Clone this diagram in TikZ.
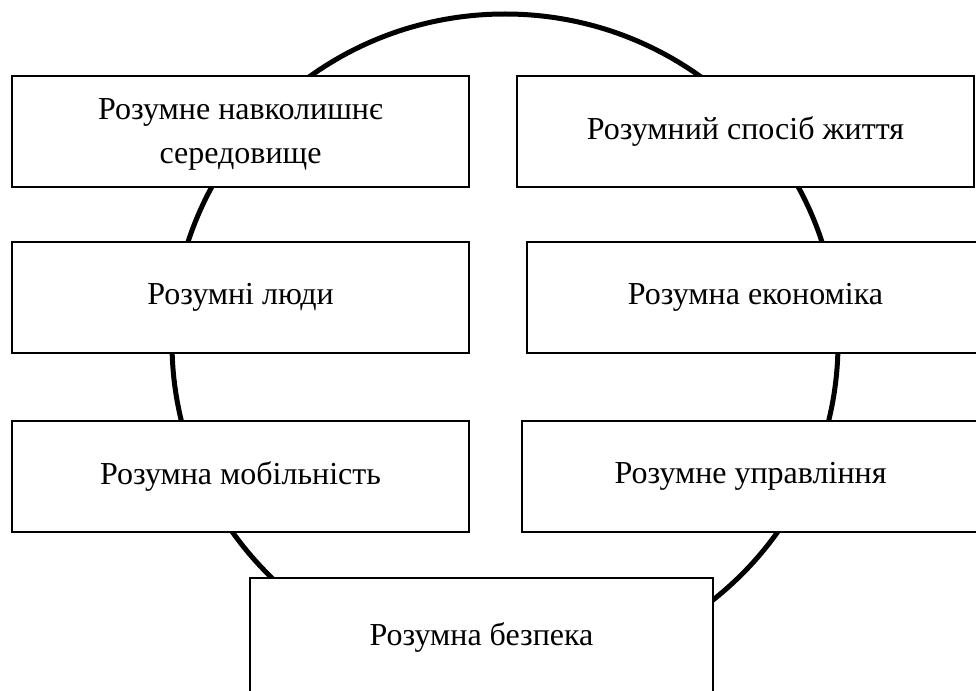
\documentclass[tikz,border=0pt]{standalone}
\usepackage{fontspec}
\setmainfont{Liberation Serif}
\begin{document}
\begin{tikzpicture}[x=1pt,y=-1pt,
  box/.style={draw=black, line width=1.6pt, fill=white, rectangle,
    minimum width=457pt, minimum height=111pt, inner sep=0pt, align=center,
    font=\fontsize{32}{44}\selectfont},
  ring/.style={draw=black, line width=5pt}]
\useasboundingbox (0,0) rectangle (976,690);
\clip (0,0) rectangle (976,690);
\draw[ring] (505,343) ellipse [x radius=333, y radius=329];
\node[box, text depth=0pt] (b1) at (240.5,131.5) {Розумне навколишнє\\середовище};
\node[box] (b2) at (745.5,131.5) {Розумний спосіб життя};
\node[box] (b3) at (240.5,297.5) {Розумні люди};
\node[box] (b4) at (755.5,297.5) {Розумна економіка};
\node[box] (b5) at (240.5,476.5) {Розумна мобільність};
\node[box] (b6) at (750.5,476.5) {Розумне управління};
\node[box, minimum width=463pt, minimum height=118pt] (b7) at (481.5,637) {Розумна безпека};
\end{tikzpicture}
\end{document}
